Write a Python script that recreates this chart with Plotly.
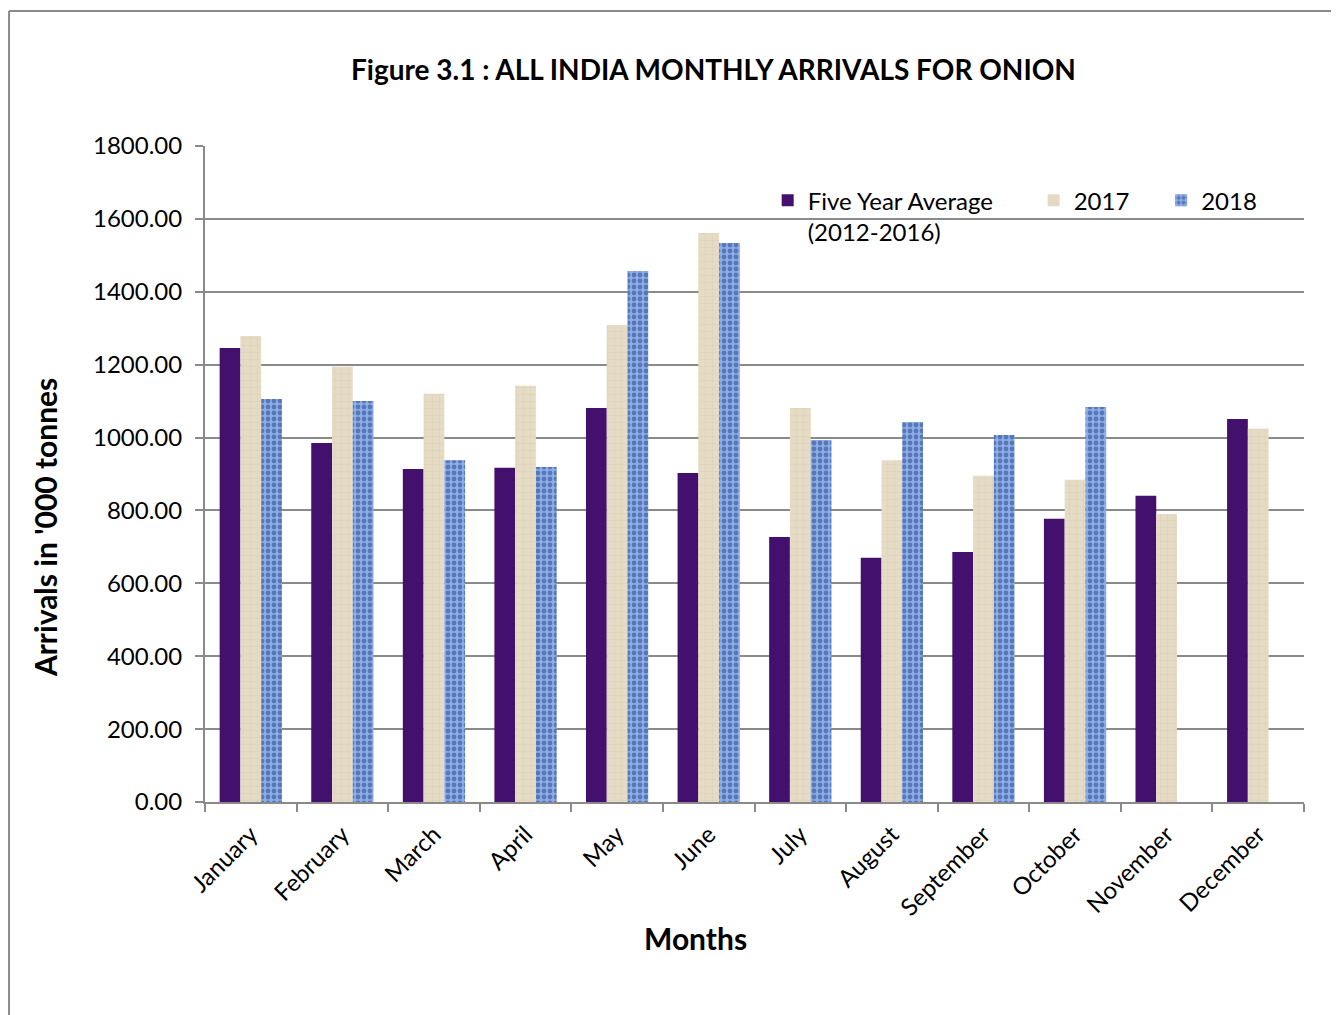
import plotly.graph_objects as go

months = ["January", "February", "March", "April", "May", "June", "July",
          "August", "September", "October", "November", "December"]
five_year_avg = [1246, 985, 914, 917, 1081, 903, 727, 670, 686, 777, 840, 1051]
y2017 = [1279, 1194, 1120, 1142, 1309, 1561, 1081, 938, 895, 884, 790, 1024]
y2018 = [1106, 1100, 938, 919, 1457, 1534, 993, 1043, 1007, 1084, None, None]
y_ticks = [0, 200, 400, 600, 800, 1000, 1200, 1400, 1600, 1800]

FONT = "Lato"
GRID = "#8a8a8a"

fig = go.Figure()
fig.add_trace(go.Bar(
    x=months, y=five_year_avg, name="Five Year Average<br>(2012-2016)",
    legend="legend",
    marker=dict(color="#43106d", line=dict(width=0)),
))
fig.add_trace(go.Bar(
    x=months, y=y2017, name="2017", legend="legend2",
    marker=dict(color="#e4d9c2", line=dict(width=0),
                pattern=dict(shape="+", fgcolor="#cbbb9c", bgcolor="#e6dcc6",
                             size=7, solidity=0.12)),
))
fig.add_trace(go.Bar(
    x=months, y=y2018, name="2018", legend="legend3",
    marker=dict(color="#7a9ad8", line=dict(width=0),
                pattern=dict(shape=".", fgcolor="#23417f", bgcolor="#8cadea",
                             size=6, solidity=0.5)),
))

leg_common = dict(orientation="v", yanchor="top", y=0.951, xanchor="left",
                  bgcolor="rgba(0,0,0,0)", valign="top",
                  font=dict(size=24, family=FONT, color="black"))

fig.update_layout(
    width=1331, height=1007,
    margin=dict(l=197, r=35, t=138, b=213),
    paper_bgcolor="white", plot_bgcolor="white",
    barmode="group", bargap=0.32, bargroupgap=0,
    font=dict(family=FONT, color="black", size=24),
    title=dict(text="<b>Figure 3.1 : ALL INDIA MONTHLY ARRIVALS FOR ONION</b>",
               x=0.530, xanchor="center", y=0.938, yanchor="middle",
               font=dict(size=28, family=FONT)),
    legend=dict(x=0.512, **leg_common),
    legend2=dict(x=0.754, **leg_common),
    legend3=dict(x=0.870, **leg_common),
    showlegend=True,
)
fig.update_yaxes(
    range=[0, 1800], tickvals=y_ticks, tickformat=".2f",
    showgrid=True, gridcolor=GRID, gridwidth=2,
    showline=True, linecolor=GRID, linewidth=2,
    ticks="outside", ticklen=8, tickcolor=GRID, tickwidth=2,
    ticklabelstandoff=8,
    tickfont=dict(size=24, family=FONT), zeroline=False,
)
fig.update_xaxes(
    showline=True, linecolor=GRID, linewidth=2, mirror=False,
    ticks="outside", tickson="boundaries", ticklen=8, tickcolor=GRID, tickwidth=2,
    ticklabelstandoff=7,
    tickangle=-45, tickfont=dict(size=24, family=FONT),
)

fig.add_annotation(text="<b>Months</b>", xref="paper", yref="paper",
                   x=0.446, y=-0.207, xanchor="center", yanchor="middle",
                   showarrow=False, font=dict(size=30, family=FONT, color="black"))
fig.add_annotation(text="<b>Arrivals in '000 tonnes</b>", xref="paper", yref="paper",
                   x=-0.1456, y=0.419, xanchor="center", yanchor="middle",
                   textangle=-90, showarrow=False,
                   font=dict(size=30, family=FONT, color="black"))

fig.add_shape(type="line", xref="paper", yref="paper",
              x0=-0.1783, x1=1.1, y0=1.2058, y1=1.2058,
              line=dict(color=GRID, width=2))
fig.add_shape(type="line", xref="paper", yref="paper",
              x0=-0.1783, x1=-0.1783, y0=1.2058, y1=-0.4,
              line=dict(color=GRID, width=2))

fig.write_html("out.html")
